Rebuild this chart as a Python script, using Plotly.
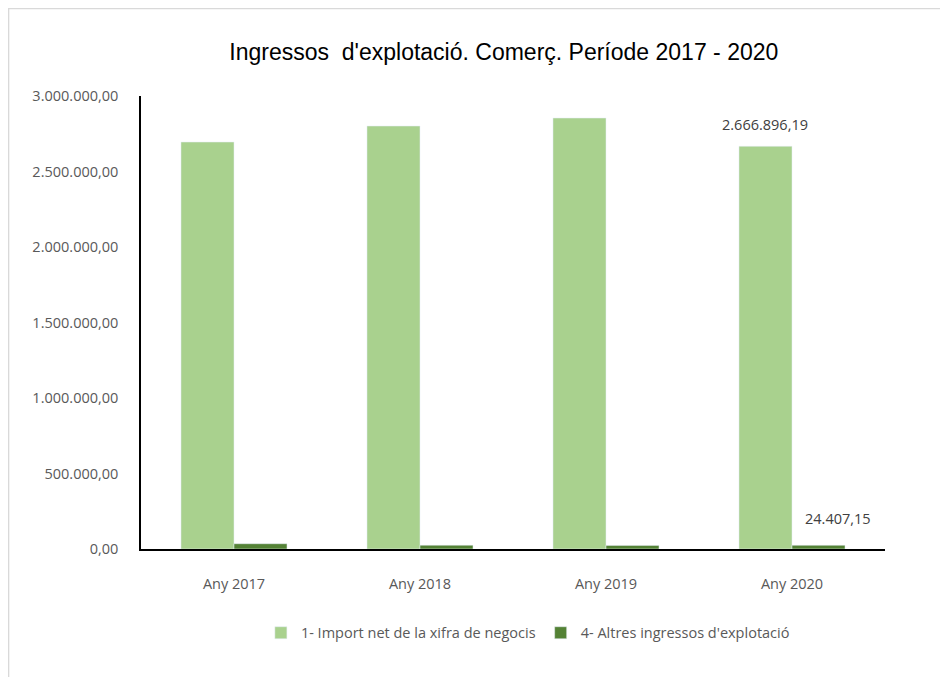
import plotly.graph_objects as go

anys = ['Any 2017', 'Any 2018', 'Any 2019', 'Any 2020']
import_net = [2695000, 2801000, 2854000, 2666896.19]
altres = [35000, 25000, 24000, 24407.15]

verd_clar = '#A9D18E'
verd_fosc = '#548235'
gris = '#595959'

fig = go.Figure()
fig.add_bar(x=anys, y=import_net, name='1- Import net de la xifra de negocis',
            marker_color=verd_clar)
fig.add_bar(x=anys, y=altres, name="4- Altres ingressos d'explotació",
            marker_color=verd_fosc)

# etiquetes només per al 2020
fig.add_annotation(x=anys[-1], y=import_net[-1], text='2.666.896,19', showarrow=False,
                   xshift=-27, yshift=22, font=dict(size=14.5, color='#404040'))
fig.add_annotation(x=anys[-1], y=altres[-1], text='24.407,15', showarrow=False,
                   xshift=46, yshift=27, font=dict(size=14.5, color='#404040'))

# vora de l'àrea del gràfic
fig.add_shape(type='rect', xref='paper', yref='paper', x0=-0.178, x1=1.2, y0=-0.6, y1=1.193,
              line=dict(color='#D9D9D9', width=1.5), fillcolor='rgba(0,0,0,0)', layer='below')

fig.update_layout(
    width=948, height=677,
    margin=dict(l=133, r=71, t=88, b=136),
    paper_bgcolor='white', plot_bgcolor='white',
    separators=',.',
    barmode='group', bargap=0.43, bargroupgap=0,
    font=dict(family='Open Sans, DejaVu Sans, sans-serif', color=gris, size=13),
    title=dict(text="Ingressos  d'explotació. Comerç. Període 2017 - 2020",
               x=0.523, xanchor='center', y=0.935, yanchor='middle',
               font=dict(family='Liberation Sans Narrow, Liberation Sans, sans-serif',
                         size=23, color='black')),
    legend=dict(orientation='h', x=0.52, xanchor='center', y=-0.185, yanchor='middle',
                font=dict(size=14.5, color=gris), itemwidth=30, traceorder='normal'),
    showlegend=True,
)
fig.update_yaxes(range=[0, 3000000], dtick=500000, tickformat=',.2f', showgrid=False,
                 showline=True, linecolor='black', linewidth=1.5, ticks='', zeroline=False,
                 tickfont=dict(size=14.5, color=gris), ticklabelstandoff=18)
fig.update_xaxes(showline=True, linecolor='black', linewidth=1.5, ticks='', showgrid=False,
                 tickfont=dict(size=14.5, color=gris), ticklabelstandoff=21)

fig.write_html('out.html')
